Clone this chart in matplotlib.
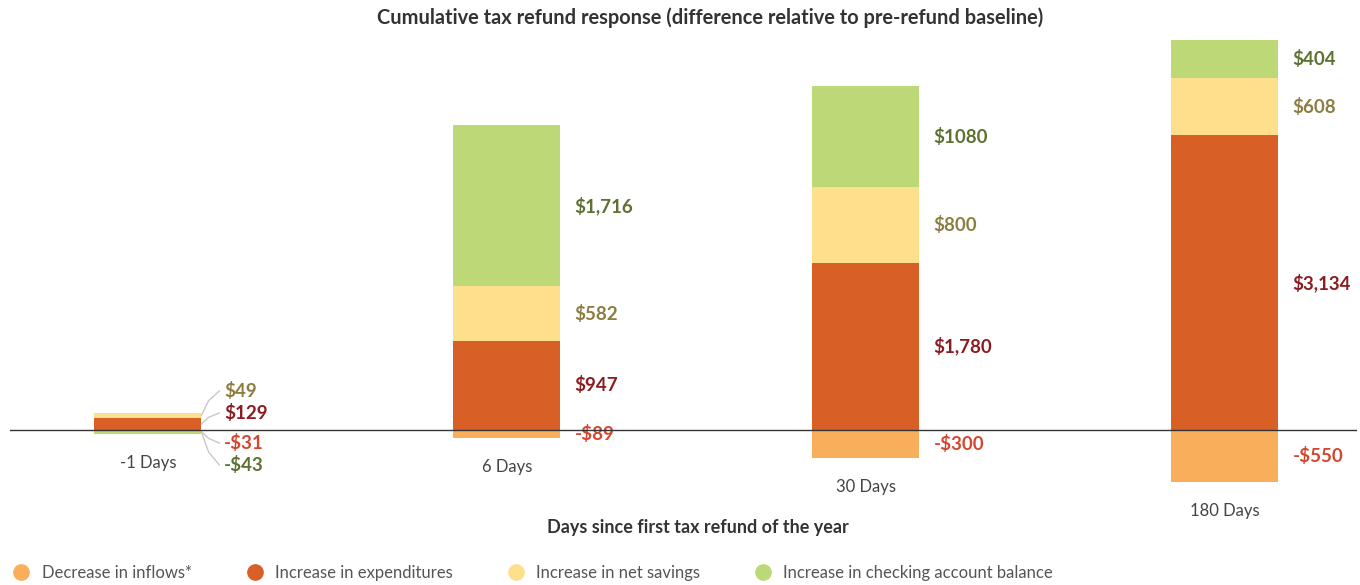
import matplotlib
matplotlib.use("Agg")
import matplotlib.pyplot as plt
from matplotlib.lines import Line2D
import numpy as np

plt.rcParams['font.family'] = ['Lato', 'DejaVu Sans']

categories = ["-1 Days", "6 Days", "30 Days", "180 Days"]
series_names = ["Decrease in inflows*", "Increase in expenditures",
                "Increase in net savings", "Increase in checking account balance"]
inflows = [-31, -89, -300, -550]
expenditures = [129, 947, 1780, 3134]
savings = [49, 582, 800, 608]
checking = [-43, 1716, 1080, 404]

inflow_labels = ["-$31", "-$89", "-$300", "-$550"]
exp_labels = ["$129", "$947", "$1,780", "$3,134"]
sav_labels = ["$49", "$582", "$800", "$608"]
chk_labels = ["-$43", "$1,716", "$1080", "$404"]

bar_colors = ["#F9AE5B", "#D86027", "#FEDF8C", "#BCD877"]
label_colors = ["#D4472E", "#8B1D22", "#8C7D42", "#5E7132"]

W, H = 1360, 585
fig = plt.figure(figsize=(W / 100, H / 100), dpi=100)
ax_left, ax_right = 10 / W, 1357 / W
ax_top, ax_bot = 30, 500
ax = fig.add_axes([ax_left, 1 - ax_bot / H, ax_right - ax_left, (ax_bot - ax_top) / H])

x = np.arange(len(categories))
width = 0.298
ax.set_xlim(-0.384, 3.368)
ax.set_ylim(-745, 4255)

series = [inflows, expenditures, savings, checking]
labels = [inflow_labels, exp_labels, sav_labels, chk_labels]

pos_base = np.zeros(len(x))
neg_base = np.zeros(len(x))
segments = []
for si in range(4):
    vals = np.array(series[si], dtype=float)
    bottoms = np.where(vals >= 0, pos_base, 0.0 if si == 3 else neg_base)
    ax.bar(x, vals, width, bottom=bottoms, color=bar_colors[si], zorder=2 + si, linewidth=0)
    for ci, v in enumerate(vals):
        segments.append((si, ci, bottoms[ci] + v / 2))
    pos_base = pos_base + np.where(vals >= 0, vals, 0)
    if si != 3:
        neg_base = neg_base + np.where(vals < 0, vals, 0)

ax.axhline(0, color="#333333", linewidth=1, zorder=10)

bar_right = x + width / 2
spread = {2: 391, 1: 413, 0: 443, 3: 465}
for si, ci, center in segments:
    txt = labels[si][ci]
    if ci == 0:
        ty_px = spread[si]
        ty = ax.transData.inverted().transform(
            fig.transFigure.transform((0, 1 - ty_px / H)))[1]
        tx = bar_right[ci] + 0.064
        ax.plot([bar_right[ci], bar_right[ci] + 0.02, bar_right[ci] + 0.05],
                [center, center + (ty - center) * 0.6, ty],
                color="#C8C8C8", linewidth=1, zorder=1, clip_on=False)
        ax.text(tx, ty, txt, color=label_colors[si], fontsize=13.5, fontweight="bold",
                va="center", ha="left")
    else:
        ax.text(bar_right[ci] + 0.04, center, txt, color=label_colors[si], fontsize=13.5,
                fontweight="bold", va="center", ha="left")

lowest = np.minimum(np.array(inflows), np.minimum(np.array(checking), 0))
for ci, cat in enumerate(categories):
    ax.annotate(cat, xy=(x[ci], lowest[ci]), xytext=(0, -15), textcoords="offset points",
                ha="center", va="top", fontsize=12, color="#444444")

for s in ax.spines.values():
    s.set_visible(False)
ax.set_xticks([])
ax.set_yticks([])

fig.text(710 / W, 1 - 18 / H,
         "Cumulative tax refund response (difference relative to pre-refund baseline)",
         ha="center", va="center", fontsize=14.4, fontweight="bold", color="#333333")
fig.text(698 / W, 1 - 527 / H, "Days since first tax refund of the year",
         ha="center", va="center", fontsize=13, fontweight="bold", color="#333333")

handles = [Line2D([0], [0], marker="o", linestyle="", markersize=11,
                  markerfacecolor=c, markeredgecolor=c) for c in bar_colors]
fig.legend(handles, series_names, loc="center left", bbox_to_anchor=(13 / W, 1 - 573 / H),
           ncol=4, frameon=False, fontsize=12, handletextpad=0.72, columnspacing=3.28,
           handlelength=1.0, labelcolor="#555555", borderaxespad=0, borderpad=0)

fig.savefig("out.png", dpi=100)
